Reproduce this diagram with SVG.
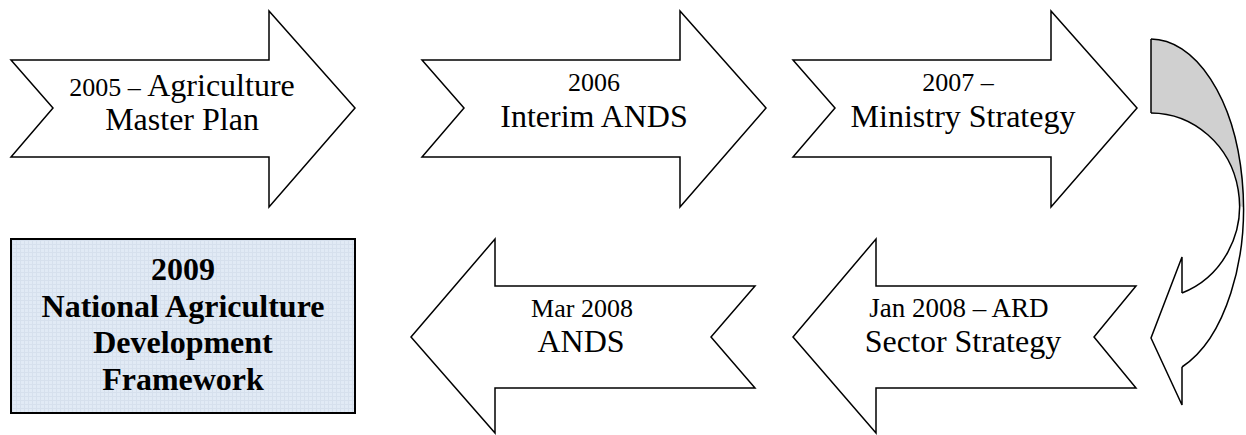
<svg xmlns="http://www.w3.org/2000/svg" width="1246" height="435" viewBox="0 0 1246 435">
<defs>
<style>
.shape{fill:#fff;stroke:#000;stroke-width:1.5;stroke-linejoin:miter}
.t{fill:#000;text-anchor:middle}
.big{font-size:32px}
.small{font-size:26px}
.b{font-weight:bold;font-size:32px}
.line{fill:none;stroke:#000;stroke-width:1.5;stroke-linejoin:miter}
</style>
<pattern id="grid" width="4" height="4" patternUnits="userSpaceOnUse">
<rect width="4" height="4" fill="#e1eaf5"/>
<path d="M0 0.5H4M0.5 0V4" stroke="#d6e0ed" stroke-width="1"/>
</pattern>
</defs>
<rect width="1246" height="435" fill="#fff"/>
<g font-family="Liberation Serif, serif">
<g id="node-2005">
<polygon class="shape" points="11,60 269,60 269,11 355,108 269,207 269,157 11,157 53,108"/>
<text class="t" x="182" y="96"><tspan class="small">2005 – </tspan><tspan class="big">Agriculture</tspan></text>
<text class="t big" x="182" y="130">Master Plan</text>
</g>

<g id="node-2006">
<polygon class="shape" points="422,60 680,60 680,11 766,108 680,207 680,157 422,157 464,108"/>
<text class="t small" x="594" y="91">2006</text>
<text class="t big" x="594" y="127">Interim ANDS</text>
</g>

<g id="node-2007">
<polygon class="shape" points="793,60 1051,60 1051,11 1137,108 1051,207 1051,157 793,157 835,108"/>
<text class="t small" x="958" y="91">2007 –</text>
<text class="t big" x="963" y="127">Ministry Strategy</text>
</g>

<g id="node-jan2008">
<polygon class="shape" points="793,337 876,239 876,286 1136,286 1094,337 1136,388 876,388 876,433"/>
<text class="t" x="959" y="317" font-size="27">Jan 2008 – ARD</text>
<text class="t big" x="963" y="352">Sector Strategy</text>
</g>

<g id="node-mar2008">
<polygon class="shape" points="411,337 495,239 495,286 755,286 711,337 755,388 495,388 495,433"/>
<text class="t small" x="582" y="317">Mar 2008</text>
<text class="t big" x="581" y="352">ANDS</text>
</g>

<g id="node-2009">
<rect x="11" y="239" width="344" height="174" fill="url(#grid)" stroke="#000" stroke-width="2"/>
<text class="t b" x="183" y="280">2009</text>
<text class="t b" x="183" y="317">National Agriculture</text>
<text class="t b" x="183" y="353">Development</text>
<text class="t b" x="183" y="390">Framework</text>
</g>
</g>
<g id="connectors">
<path d="M1151,39 A93,169 0 0 1 1244,208 L1240,206 A89,93 0 0 0 1151,113 Z" fill="#d0d0d0" stroke="none"/>
<path d="M1240,206 A89,93 0 0 1 1182,293 L1182,257 L1151,338 L1182,405 L1182,367 A93,169 0 0 0 1244,208 Z" fill="#fff" stroke="none"/>
<path class="line" d="M1151,39 A93,169 0 0 1 1182,367"/>
<path class="line" d="M1151,113 A89,93 0 0 1 1182,293"/>
<path class="line" d="M1151,39 L1151,113"/>
<path class="line" d="M1182,293 L1182,257 L1151,338 L1182,405 L1182,367"/>
</g>
</svg>
